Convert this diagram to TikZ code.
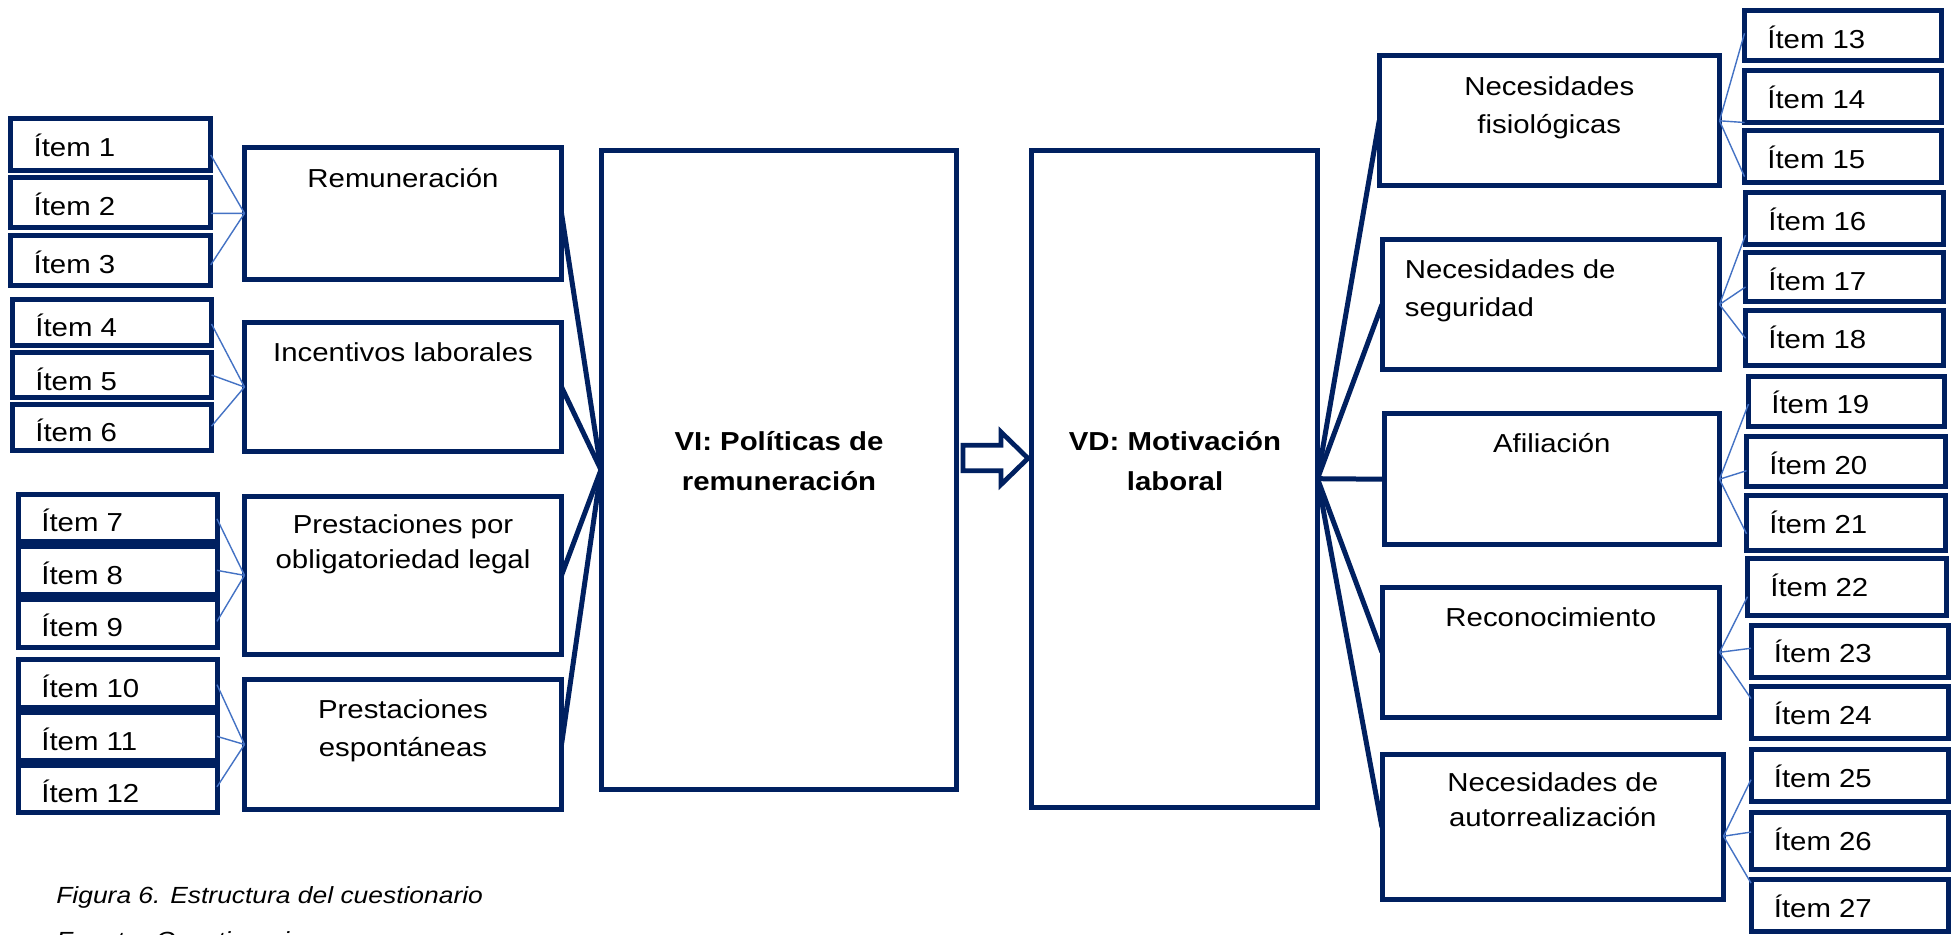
\documentclass[tikz,border=0pt]{standalone}
\usepackage{fontspec}
\setmainfont{Liberation Sans}[FakeStretch=1.13]
\definecolor{navy}{HTML}{002060}
\definecolor{thinblue}{HTML}{4472C4}
\tikzset{
 boxln/.style={draw=navy, line width=0.1cm, fill=white, inner sep=0pt, outer sep=0pt, rectangle},
 thinln/.style={draw=thinblue, line width=0.028cm},
 thickln/.style={draw=navy, line width=0.1cm},
 itxt/.style={inner sep=0pt, font=\fontsize{14.8pt}{19.9pt}\selectfont, anchor=base west},
 stxt/.style={inner sep=0pt, font=\fontsize{14.8pt}{19.9pt}\selectfont, anchor=base, align=center},
 btxt/.style={inner sep=0pt, font=\bfseries\fontsize{14.8pt}{19.9pt}\selectfont, anchor=base, align=center},
 ctxt/.style={inner sep=0pt, font=\itshape\fontsize{13.3pt}{16pt}\selectfont, anchor=base west},
 arrowln/.style={draw=navy, line width=0.095cm, fill=white, line join=miter},
}
\newcommand\mybox[5]{\node[boxln, minimum width={(#4-#2-5)*0.02cm}, minimum height={(#5-#3-5)*0.02cm}] (#1) at ({(#2+#4)/2},{(#3+#5)/2}) {};}
\newcommand\myitem[6]{\mybox{#1}{#2}{#3}{#4}{#5}\node[itxt] (#1t) at ({#2+25},{#3+40}) {#6};}
\begin{document}
\begin{tikzpicture}[x=0.02cm, y=-0.02cm]
\useasboundingbox[fill=white] (0,0) rectangle (1951,934);
% left items
\myitem{i1}{8.3}{116}{213.3}{172.7}{Ítem 1}
\myitem{i2}{8.3}{175}{213.3}{230}{Ítem 2}
\myitem{i3}{8.3}{233.3}{213.3}{288.3}{Ítem 3}
\myitem{i4}{10}{296.7}{214}{348.3}{Ítem 4}
\myitem{i5}{10}{350}{214}{400}{Ítem 5}
\myitem{i6}{10}{401.7}{214}{452.7}{Ítem 6}
\myitem{i7}{16}{491.7}{219.5}{544}{Ítem 7}
\myitem{i8}{16}{544}{219.5}{596.7}{Ítem 8}
\myitem{i9}{16}{596.7}{219.5}{650}{Ítem 9}
\myitem{i10}{16}{657.3}{219.5}{710}{Ítem 10}
\myitem{i11}{16}{710}{219.5}{762.7}{Ítem 11}
\myitem{i12}{16}{762.7}{219.5}{815}{Ítem 12}
% left sub-boxes
\mybox{rem}{242}{145}{564}{281.7}
\mybox{inc}{242}{320}{564}{454}
\mybox{ppo}{242}{494}{564}{656.7}
\mybox{pes}{242}{677.3}{564}{811.7}
% main boxes
\mybox{vi}{598.5}{147.7}{959}{791.9}
\mybox{vd}{1028.5}{147.7}{1320}{809.7}
% right sub-boxes
\mybox{nf}{1376.7}{53.3}{1722}{188.3}
\mybox{ns}{1379.5}{237.3}{1722}{371.7}
\mybox{af}{1381.5}{411.4}{1722}{547}
\mybox{rc}{1379.5}{585}{1722}{719.6}
\mybox{na}{1379.5}{752}{1726}{902.4}
% right items
\myitem{i13}{1742}{8.3}{1944}{63.3}{Ítem 13}
\myitem{i14}{1742}{68.3}{1944}{125}{Ítem 14}
\myitem{i15}{1742}{128.3}{1944}{185}{Ítem 15}
\myitem{i16}{1743}{190}{1946}{246.7}{Ítem 16}
\myitem{i17}{1743}{250}{1946}{304}{Ítem 17}
\myitem{i18}{1743}{308.3}{1946}{368.3}{Ítem 18}
\myitem{i19}{1746}{373.6}{1947}{429.4}{Ítem 19}
\myitem{i20}{1744}{434}{1948}{489.4}{Ítem 20}
\myitem{i21}{1744}{493.4}{1948}{552.7}{Ítem 21}
\myitem{i22}{1745}{556.3}{1948.6}{618.2}{Ítem 22}
\myitem{i23}{1748.5}{622.5}{1951}{680}{Ítem 23}
\myitem{i24}{1748.5}{684}{1951}{740.5}{Ítem 24}
\myitem{i25}{1748.5}{747}{1951}{803.5}{Ítem 25}
\myitem{i26}{1748.5}{810.3}{1951}{871.8}{Ítem 26}
\myitem{i27}{1748.5}{877}{1951}{934}{Ítem 27}
% texts in sub-boxes (multi-line nodes placed at the baseline of their last line)
\node[stxt] (remt) at (403,187.3) {Remuneración};
\node[stxt] (inct) at (403,361.7) {Incentivos laborales};
\node[stxt] (ppot) at (403,568) {Prestaciones por\\obligatoriedad legal};
\node[stxt] (pest) at (403,756.7) {Prestaciones\\[0.068cm]espontáneas};
\node[btxt] (vit) at (779,490) {VI: Políticas de\\[0.1cm]remuneración};
\node[btxt] (vdt) at (1175,490) {VD: Motivación\\[0.1cm]laboral};
\node[stxt] (nft) at (1549.3,133.3) {Necesidades\\[0.066cm]fisiológicas};
\node[stxt, anchor=base west, align=left] (nst) at (1404.5,316.7) {Necesidades de\\[0.068cm]seguridad};
\node[stxt] (aft) at (1551.8,452.7) {Afiliación};
\node[stxt] (rct) at (1550.8,626) {Reconocimiento};
\node[stxt] (nat) at (1552.8,826.8) {Necesidades de\\autorrealización};
% thick connectors
\draw[thickln] (rem.east) -- (vi.west);
\draw[thickln] (inc.east) -- (vi.west);
\draw[thickln] (ppo.east) -- (vi.west);
\draw[thickln] (pes.east) -- (vi.west);
\draw[thickln] (vd.east) -- (nf.west);
\draw[thickln] (vd.east) -- (ns.west);
\draw[thickln] (vd.east) -- (af.west);
\draw[thickln] (vd.east) -- (rc.west);
\draw[thickln] (vd.east) -- (na.west);
% thin connectors left
\draw[thinln] ([yshift=-0.214cm]i1.east) -- (rem.west);
\draw[thinln] ([yshift=-0.216cm]i2.east) -- (rem.west);
\draw[thinln] ([yshift=-0.08cm]i3.east) -- (rem.west);
\draw[thinln] ([yshift=-0.03cm]i4.east) -- (inc.west);
\draw[thinln] (i5.east) -- (inc.west);
\draw[thinln] ([yshift=0.02cm]i6.east) -- (inc.west);
\draw[thinln] ([yshift=-0.02cm]i7.east) -- (ppo.west);
\draw[thinln] (i8.east) -- (ppo.west);
\draw[thinln] ([yshift=0.04cm]i9.east) -- (ppo.west);
\draw[thinln] ([yshift=-0.02cm]i10.east) -- (pes.west);
\draw[thinln] (i11.east) -- (pes.west);
\draw[thinln] ([yshift=0.04cm]i12.east) -- (pes.west);
% thin connectors right
\draw[thinln] (nf.east) -- ([yshift=0.05cm]i13.west);
\draw[thinln] (nf.east) -- (i14.south west);
\draw[thinln] (nf.east) -- ([yshift=-0.4cm]i15.west);
\draw[thinln] (ns.east) -- ([yshift=-0.334cm]i16.west);
\draw[thinln] (ns.east) -- ([yshift=-0.2cm]i17.west);
\draw[thinln] (ns.east) -- (i18.west);
\draw[thinln] (af.east) -- ([yshift=-0.05cm]i19.west);
\draw[thinln] (af.east) -- ([yshift=-0.18cm]i20.west);
\draw[thinln] (af.east) -- ([yshift=-0.214cm]i21.west);
\draw[thinln] (rc.east) -- ([yshift=-0.188cm]i22.west);
\draw[thinln] (rc.east) -- ([yshift=0.06cm]i23.west);
\draw[thinln] (rc.east) -- ([yshift=0.274cm]i24.west);
\coordinate (naj) at ([yshift=-0.18cm]na.east);
\draw[thinln] (naj) -- ([yshift=-0.088cm]i25.west);
\draw[thinln] (naj) -- ([yshift=0.18cm]i26.west);
\draw[thinln] (naj) -- ([yshift=0.448cm]i27.west);
% block arrow between VI and VD
\draw[arrowln] (963,445.3) -- (1001,445.3) -- (1001,432) -- (1028,458.3) -- (1001,484.6) -- (1001,470.7) -- (963,470.7) -- cycle;
% caption
\node[ctxt] (cap1) at (56,903.3) {Figura 6. Estructura del cuestionario};
\node[ctxt] (cap2) at (56,948) {Fuente: Cuestionario};
\end{tikzpicture}
\end{document}
